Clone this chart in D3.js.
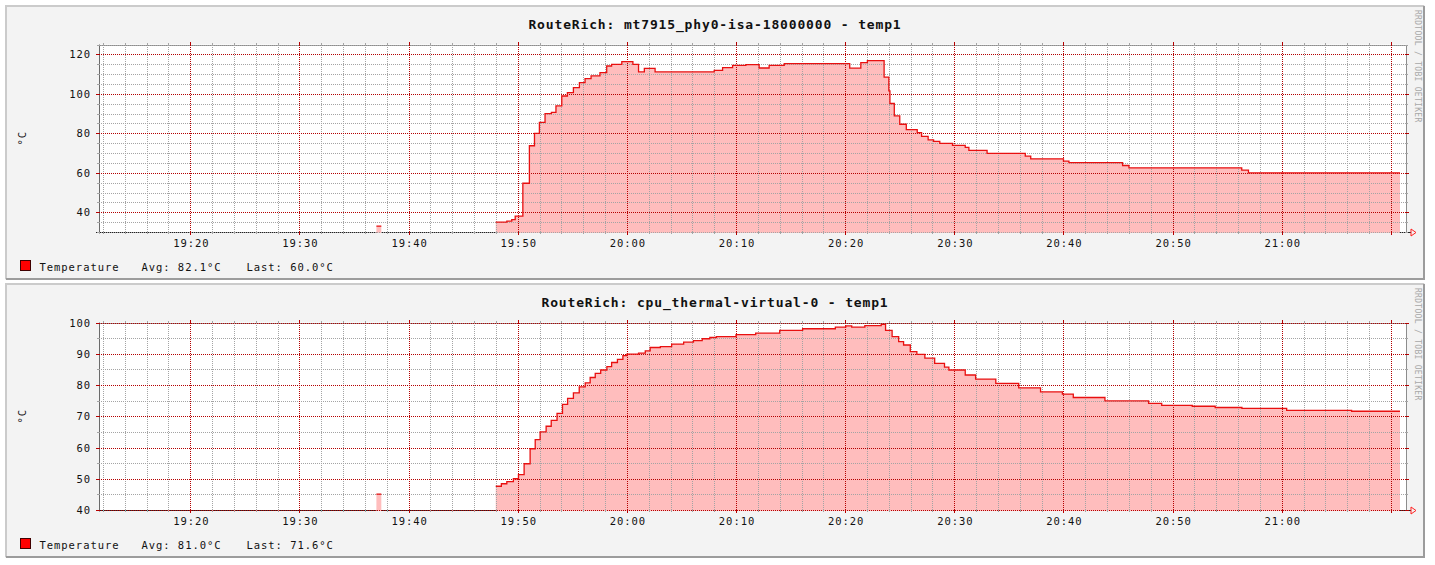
<!DOCTYPE html>
<html>
<head>
<meta charset="utf-8">
<script src="https://cdn.jsdelivr.net/npm/d3@7"></script>
<style>
  body { margin: 0; background: #fff; }
  svg { display: block; font-family: "DejaVu Sans Mono", monospace; }
</style>
</head>
<body>
<svg id="chart" width="1435" height="565"></svg>
<script>
// ---- chart data ----
const titles = [
  "RouteRich: mt7915_phy0-isa-18000000 - temp1",
  "RouteRich: cpu_thermal-virtual-0 - temp1",
];
const seriesName = "Temperature";
const avgLabels = ["82.1", "81.0"];
const lastLabels = ["60.0", "71.6"];
const unitLabel = "°C";
const yDomains = [[30, 125], [40, 100]];
const yMajorSteps = [20, 10];
const yMinorStep = 5;
const timeStart = "19:11:38";
const timeEnd = "21:11:23";
const xLabels = ["19:20", "19:30", "19:40", "19:50", "20:00", "20:10", "20:20", "20:30", "20:40", "20:50", "21:00"];
const xMajor = [...xLabels, "21:10"];
const watermark = "RRDTOOL / TOBI OETIKER";

// mt7915 wifi chip, null = no data after that point
const wifiTimes = [
  "19:37:03", "19:37:30", "19:37:31",
  "19:47:59", "19:49:00", "19:49:27", "19:49:46", "19:50:28", "19:51:04", "19:51:32",
  "19:51:59", "19:52:30", "19:53:05", "19:53:30", "19:54:02", "19:54:33", "19:55:06",
  "19:55:39", "19:56:10", "19:56:43", "19:57:32", "19:58:09", "19:58:36", "19:59:32",
  "20:00:33", "20:01:04", "20:01:36", "20:02:35", "20:08:00", "20:08:46", "20:09:41",
  "20:10:54", "20:12:07", "20:13:02", "20:14:25", "20:20:25", "20:21:26", "20:22:02",
  "20:23:34", "20:24:00", "20:24:06", "20:24:30", "20:25:00", "20:25:36", "20:26:36",
  "20:27:00", "20:27:36", "20:28:06", "20:28:40", "20:29:50", "20:31:00", "20:31:20",
  "20:33:00", "20:36:30", "20:37:00", "20:40:00", "20:40:30", "20:45:25", "20:46:00",
  "20:56:20", "20:56:57", "21:10:50",
];
const wifiTemps = [
  33, 33, null,
  35.0, 35.5, 36.3, 38.0, 54.7, 73.7, 80.0,
  85.5, 90.0, 90.6, 93.9, 98.9, 100.6, 103.2,
  105.7, 107.7, 109.1, 110.7, 114.1, 114.9, 116.3,
  114.9, 111.1, 112.9, 111.1, 111.9, 113.3, 114.4,
  114.8, 113.1, 114.4, 115.3, 113.0, 115.8, 116.8,
  108.5, 101.5, 95.1, 88.8, 84.6, 81.9, 80.4,
  78.4, 76.7, 75.9, 74.9, 73.9, 72.9, 71.4,
  69.8, 68.4, 67.1, 65.9, 65.1, 63.7, 62.5,
  61.3, 60.0, 60.0,
];

// cpu thermal zone
const cpuTimes = [
  "19:37:03", "19:37:30", "19:37:31",
  "19:47:59", "19:48:30", "19:49:00", "19:49:36", "19:50:04", "19:50:35", "19:51:08",
  "19:51:36", "19:52:03", "19:52:36", "19:53:04", "19:53:36", "19:54:06", "19:54:34",
  "19:55:06", "19:55:38", "19:56:11", "19:56:38", "19:57:06", "19:57:36", "19:58:10",
  "19:58:36", "19:59:08", "19:59:38", "20:00:00", "20:01:04", "20:01:41", "20:02:08",
  "20:03:04", "20:04:06", "20:05:12", "20:06:06", "20:06:54", "20:07:36", "20:08:12",
  "20:10:00", "20:11:48", "20:14:00", "20:16:06", "20:19:06", "20:20:03", "20:20:36",
  "20:21:48", "20:23:18", "20:23:42", "20:24:18", "20:24:54", "20:25:21", "20:25:58",
  "20:26:34", "20:27:18", "20:28:12", "20:29:06", "20:29:30", "20:31:00", "20:31:57",
  "20:33:48", "20:35:54", "20:37:54", "20:39:54", "20:40:54", "20:43:48", "20:47:48",
  "20:49:00", "20:51:48", "20:53:54", "20:56:21", "21:00:27", "21:06:24", "21:10:50",
];
const cpuTemps = [
  45.1, 45.1, null,
  47.6, 48.4, 49.1, 50.0, 51.3, 54.8, 59.6,
  62.5, 65.0, 66.8, 68.7, 70.9, 73.8, 75.7,
  77.5, 79.4, 80.7, 82.4, 83.7, 84.8, 85.9,
  87.2, 88.2, 89.4, 89.9, 90.2, 90.9, 92.0,
  92.3, 93.1, 93.7, 94.2, 94.8, 95.2, 95.5,
  96.1, 96.6, 97.5, 98.0, 98.5, 98.9, 98.5,
  99.0, 99.4, 97.5, 95.5, 93.9, 92.8, 90.7,
  89.8, 88.6, 86.9, 85.7, 84.8, 83.2, 81.9,
  80.5, 79.1, 77.8, 77.1, 76.0, 74.9, 74.1,
  73.5, 73.2, 72.8, 72.5, 71.9, 71.6, 71.6,
];

// ---- layout ----
const panelTops = [5, 283];
const panelW = 1420, panelH = 275;
const plot = { left: 99, right: 1406, top: 39.5, bottom: 227 };
const majorColor = "#b40000";
const minorColor = "#a4a4a4";

const parse = d3.timeParse("%H:%M:%S");
const parseHM = d3.timeParse("%H:%M");

const x = d3.scaleTime()
  .domain([parse(timeStart), parse(timeEnd)])
  .range([plot.left, plot.right]);

const svg = d3.select("#chart");

const series = [
  wifiTimes.map((t, i) => ({ t: parse(t), v: wifiTemps[i] })),
  cpuTimes.map((t, i) => ({ t: parse(t), v: cpuTemps[i] })),
];

const px = (v) => Math.round(v) + 0.5; // crisp 1px lines

series.forEach((data, i) => {
  const g = svg.append("g").attr("transform", `translate(0,${panelTops[i]})`);

  const y = d3.scaleLinear().domain(yDomains[i]).range([plot.bottom, plot.top]);
  const [y0, y1] = yDomains[i];

  // panel background + 3d border
  g.append("rect")
    .attr("x", 5).attr("y", 0).attr("width", panelW).attr("height", panelH)
    .attr("fill", "#f3f3f3");
  g.append("path")
    .attr("d", `M6,${panelH - 1} V1 H${5 + panelW - 1}`)
    .attr("fill", "none").attr("stroke", "#cbcbcb").attr("stroke-width", 2);
  g.append("path")
    .attr("d", `M${5 + panelW - 1},1 V${panelH - 1} H6`)
    .attr("fill", "none").attr("stroke", "#9c9c9c").attr("stroke-width", 2);

  // plot canvas
  g.append("rect")
    .attr("x", plot.left).attr("y", plot.top)
    .attr("width", plot.right - plot.left).attr("height", plot.bottom - plot.top)
    .attr("fill", "#fff");

  // frame (top, right) and axes (left, bottom)
  g.append("path")
    .attr("d", `M${plot.left},${px(plot.top)} H${px(plot.right)} V${px(plot.bottom)}`)
    .attr("fill", "none").attr("stroke", "#8c8c8c");
  g.append("line")
    .attr("x1", px(plot.left)).attr("x2", px(plot.left))
    .attr("y1", plot.top).attr("y2", px(plot.bottom) + 1)
    .attr("stroke", "#6a6a6a");
  g.append("line")
    .attr("x1", plot.left - 3).attr("x2", plot.right + 5)
    .attr("y1", px(plot.bottom)).attr("y2", px(plot.bottom))
    .attr("stroke", "#222");

  // data area
  const area = d3.area()
    .defined((d) => d.v != null)
    .curve(d3.curveStepAfter)
    .x((d) => x(d.t))
    .y0(plot.bottom + 1)
    .y1((d) => y(d.v));
  g.append("path").datum(data)
    .attr("d", area)
    .attr("fill", "#ffbdbd");

  // grid
  const first = (step) => Math.ceil(y0 / step) * step;
  const yMajor = d3.range(first(yMajorSteps[i]), y1 + 0.01, yMajorSteps[i]);
  const yMinor = d3.range(first(yMinorStep), y1 + 0.01, yMinorStep)
    .filter((v) => v % yMajorSteps[i] !== 0);
  const xMajorDates = xMajor.map(parseHM);
  const xMinorDates = d3.timeMinute.every(2).range(x.domain()[0], x.domain()[1])
    .filter((d) => d.getMinutes() % 10 !== 0);

  const grid = g.append("g").attr("shape-rendering", "crispEdges");

  grid.selectAll(".hmin").data(yMinor).join("line")
    .attr("x1", plot.left).attr("x2", plot.right)
    .attr("y1", (d) => px(y(d))).attr("y2", (d) => px(y(d)))
    .attr("stroke", minorColor).attr("stroke-dasharray", "1,1");
  grid.selectAll(".vmin").data(xMinorDates).join("line")
    .attr("x1", (d) => px(x(d))).attr("x2", (d) => px(x(d)))
    .attr("y1", plot.top).attr("y2", plot.bottom)
    .attr("stroke", minorColor).attr("stroke-dasharray", "1,1");
  grid.selectAll(".hmaj").data(yMajor).join("line")
    .attr("x1", plot.left).attr("x2", plot.right)
    .attr("y1", (d) => px(y(d))).attr("y2", (d) => px(y(d)))
    .attr("stroke", majorColor).attr("stroke-dasharray", "1,1");
  grid.selectAll(".vmaj").data(xMajorDates).join("line")
    .attr("x1", (d) => px(x(d))).attr("x2", (d) => px(x(d)))
    .attr("y1", plot.top).attr("y2", plot.bottom)
    .attr("stroke", majorColor).attr("stroke-dasharray", "1,1");

  // little solid stubs outside the canvas
  const stubs = g.append("g").attr("shape-rendering", "crispEdges");
  [[yMinor, minorColor, 2], [yMajor, majorColor, 3]].forEach(([vals, col, len]) => {
    stubs.selectAll(null).data(vals).join("line")
      .attr("x1", plot.left - len).attr("x2", plot.left)
      .attr("y1", (d) => px(y(d))).attr("y2", (d) => px(y(d)))
      .attr("stroke", col);
    stubs.selectAll(null).data(vals).join("line")
      .attr("x1", plot.right).attr("x2", plot.right + len)
      .attr("y1", (d) => px(y(d))).attr("y2", (d) => px(y(d)))
      .attr("stroke", col);
  });
  [[xMinorDates, minorColor, 2], [xMajorDates, majorColor, 3]].forEach(([vals, col, len]) => {
    stubs.selectAll(null).data(vals).join("line")
      .attr("x1", (d) => px(x(d))).attr("x2", (d) => px(x(d)))
      .attr("y1", plot.top - len).attr("y2", plot.top)
      .attr("stroke", col);
    stubs.selectAll(null).data(vals).join("line")
      .attr("x1", (d) => px(x(d))).attr("x2", (d) => px(x(d)))
      .attr("y1", plot.bottom).attr("y2", plot.bottom + len)
      .attr("stroke", col);
  });

  // the temperature line
  const line = d3.line()
    .defined((d) => d.v != null)
    .curve(d3.curveStepAfter)
    .x((d) => x(d.t))
    .y((d) => y(d.v));
  g.append("path").datum(data)
    .attr("d", line)
    .attr("fill", "none")
    .attr("stroke", "#e81010")
    .attr("stroke-width", 1.3);

  // x axis arrow
  g.append("path")
    .attr("d", `M${plot.right + 5},${plot.bottom - 3} L${plot.right + 10},${plot.bottom + 0.5} L${plot.right + 5},${plot.bottom + 4} Z`)
    .attr("fill", "none").attr("stroke", "#ff2020").attr("stroke-width", 1);

  // labels
  const labelFont = { size: "10.5px", spacing: "0.95px" };

  g.append("text")
    .attr("x", 715).attr("y", 23.5)
    .attr("text-anchor", "middle")
    .attr("font-size", "13px").attr("font-weight", "bold")
    .attr("letter-spacing", "0.85px")
    .attr("fill", "#111")
    .text(titles[i]);

  g.selectAll(".ylab").data(yMajor).join("text")
    .attr("x", 91).attr("y", (d) => y(d) + 4)
    .attr("text-anchor", "end")
    .attr("font-size", labelFont.size).attr("letter-spacing", labelFont.spacing)
    .attr("fill", "#111")
    .text((d) => d);

  g.selectAll(".xlab").data(xLabels).join("text")
    .attr("x", (d) => x(parseHM(d)) + 1).attr("y", 242)
    .attr("text-anchor", "middle")
    .attr("font-size", labelFont.size).attr("letter-spacing", labelFont.spacing)
    .attr("fill", "#111")
    .text((d) => d);

  g.append("text")
    .attr("transform", `translate(26,${(plot.top + plot.bottom) / 2}) rotate(-90)`)
    .attr("text-anchor", "middle")
    .attr("font-size", labelFont.size).attr("letter-spacing", labelFont.spacing)
    .attr("fill", "#111")
    .text(unitLabel);

  g.append("text")
    .attr("transform", `translate(1415,5) rotate(90)`)
    .attr("font-size", "8px").attr("letter-spacing", "0.3px")
    .attr("fill", "#a8a8a8")
    .text(watermark);

  // legend
  g.append("rect")
    .attr("x", 20.5).attr("y", 255.5).attr("width", 10).attr("height", 10)
    .attr("fill", "#ff0000").attr("stroke", "#400000");
  const legendTexts = [
    [39.5, seriesName],
    [141.5, `Avg: ${avgLabels[i]}${unitLabel}`],
    [246.5, `Last: ${lastLabels[i]}${unitLabel}`],
  ];
  g.selectAll(".leg").data(legendTexts).join("text")
    .attr("x", (d) => d[0]).attr("y", 266)
    .attr("font-size", labelFont.size).attr("letter-spacing", labelFont.spacing)
    .attr("fill", "#111")
    .text((d) => d[1]);
});
</script>
</body>
</html>
